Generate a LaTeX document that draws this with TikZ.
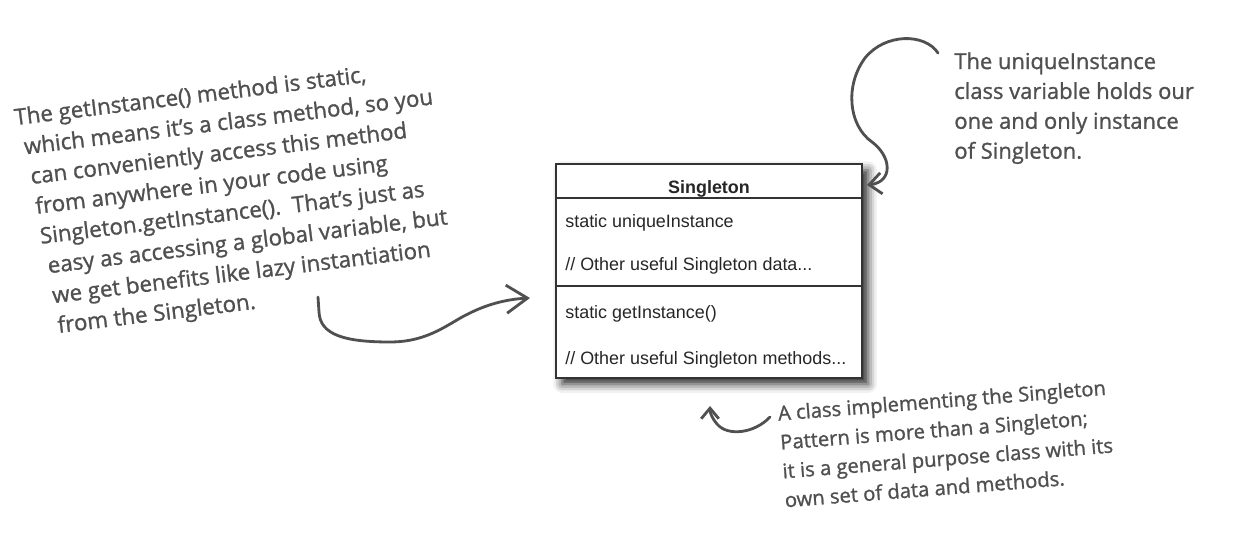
\documentclass[tikz,border=0pt]{standalone}
\usepackage{fontspec}
\setmainfont{Liberation Sans}
\newfontfamily\handfont[FakeBold=1.2]{Open Sans}
\usetikzlibrary{arrows.meta,fit,shadows.blur}
\definecolor{ink}{HTML}{505050}
\definecolor{boxline}{HTML}{333333}
\begin{document}
\begin{tikzpicture}[x=0.02cm,y=-0.02cm,
  hand/.style={text=ink, align=left, inner sep=0pt},
  uml/.style={font=\fontsize{10.2}{12}\selectfont, text=black!85, inner sep=0pt, anchor=base west},
  umltitle/.style={font=\bfseries\fontsize{10.2}{12}\selectfont, text=black!85, inner sep=0pt, anchor=base},
  classbox/.style={draw=boxline, line width=0.8pt, fill=white, inner sep=0pt,
    blur shadow={shadow xshift=3.5pt, shadow yshift=-3.5pt, shadow blur radius=5pt, shadow opacity=85}},
  divider/.style={draw=boxline, line width=0.8pt},
  pen/.style={draw=ink, line width=1.6pt, line cap=round, line join=round},
]
\useasboundingbox (0,0) rectangle (1252,541);

% class box
\coordinate (boxNW) at (556,164);
\coordinate (boxSE) at (862,378);
\node[classbox, fit=(boxNW)(boxSE)] (box) {};
\coordinate (d1) at (0,198);
\coordinate (d2) at (0,286);
\draw[divider] (box.west |- d1) -- (box.east |- d1);
\draw[divider] (box.west |- d2) -- (box.east |- d2);
\node[umltitle] (title) at (709,193) {Singleton};
\node[uml] (attr1) at (565,227) {static uniqueInstance};
\node[uml] (attr2) at (565,270) {// Other useful Singleton data...};
\node[uml] (meth1) at (565,318) {static getInstance()};
\node[uml] (meth2) at (565,364) {// Other useful Singleton methods...};

% notes
\node[hand, font=\handfont\fontsize{12.7}{17.2}\selectfont, rotate=7, anchor=north west] (why) at (13,108)
  {The getInstance() method is static,\\
   \hspace*{3.4pt}which means it’s a class method, so you\\
   \hspace*{5pt}can conveniently access this method\\
   \hspace*{5.7pt}from anywhere in your code using\\
   \hspace*{6.2pt}Singleton.getInstance().\ \ That’s just as\\
   \hspace*{8.5pt}easy as accessing a global variable, but\\
   \hspace*{9pt}we get benefits like lazy instantiation\\
   \hspace*{10pt}from the Singleton.};

\node[hand, font=\handfont\fontsize{12.5}{17}\selectfont, anchor=north west] (var) at (954,52)
  {The uniqueInstance\\class variable holds our\\one and only instance\\of Singleton.};

\node[hand, font=\handfont\fontsize{11.5}{16.5}\selectfont, rotate=4.5, anchor=north west] (impl) at (777,405)
  {A class implementing the Singleton\\Pattern is more than a Singleton;\\it is a general purpose class with its\\own set of data and methods.};

% arrows
\coordinate (a1s) at (318,297);
\coordinate (a1e) at (530,298);
\draw[pen, -{Straight Barb[length=12pt,width=16pt]}] (a1s) -- (319,312)
  .. controls (320,335) and (345,342) .. (390,342)
  .. controls (430,342) and (450,322) .. (470,313)
  .. controls (490,303) and (510,299) .. (a1e);

\coordinate (a2s) at (938,53);
\coordinate (a2e) at (867,185);
\draw[pen, -{Straight Barb[length=7pt,width=12pt]}] (a2s)
  .. controls (925,33) and (885,33) .. (865,58)
  .. controls (845,85) and (848,125) .. (872,142)
  .. controls (892,157) and (893,182) .. (a2e);

\coordinate (a3s) at (770,417);
\coordinate (a3e) at (710,406);
\draw[pen, -{Straight Barb[length=6pt,width=10pt]}] (a3s)
  .. controls (755,433) and (728,437) .. (717,424)
  .. controls (712,418) and (710,413) .. (a3e);
\end{tikzpicture}
\end{document}
